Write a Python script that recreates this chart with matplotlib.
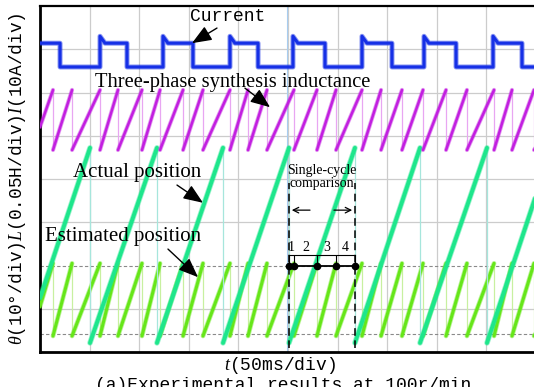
import matplotlib
matplotlib.use("Agg")
import matplotlib.pyplot as plt
import matplotlib.patheffects as pe
import numpy as np
from matplotlib.collections import LineCollection

plt.rcParams["mathtext.fontset"] = "custom"
plt.rcParams["mathtext.it"] = "Liberation Serif:italic"
plt.rcParams["mathtext.rm"] = "Liberation Serif"

# time in ms (50 ms/div), vertical in screen divisions from the bottom
T_END = 500
Y_DIVS = 8

# phase current, square wave
CURRENT_FALLS = [20.2, 87.7, 154.2, 219.8, 287.3, 354.8, 419.4, 485.9]
CURRENT_RISES = [60.5, 124.0, 191.5, 255.0, 324.6, 387.1, 456.7]
CURRENT_HIGH = 7.14
CURRENT_PEAK = 7.30
CURRENT_LOW = 6.59
CURRENT_SETTLE = 5.0

# three-phase synthesis inductance, drops at each commutation
INDUCT_DROPS = [13.1, 32.3, 60.5, 78.6, 102.8, 121.0, 144.2, 164.3, 191.5, 209.7,
                228.8, 256.0, 279.2, 298.4, 324.6, 343.8, 364.9, 386.1, 409.3,
                430.4, 457.7, 475.8, 498.0]
INDUCT_LOW, INDUCT_HIGH = 4.67, 6.06
INDUCT_START, INDUCT_END = 5.2, 4.75

# actual rotor position
ACTUAL_DROPS = [50.4, 117.9, 184.5, 251.0, 317.5, 383.1, 450.6]
ACTUAL_LOW, ACTUAL_HIGH = 0.21, 4.72
ACTUAL_START, ACTUAL_END = 1.25, 3.62

# estimated position, resets with the inductance drops
EST_LOW, EST_HIGH = 0.37, 2.05
EST_START, EST_END = 1.05, 0.45

DASHED_LEVELS = [2.0, 0.42]
TRIGGER_T = 249.0

MONO = "Liberation Mono"
SERIF = "Liberation Serif"


def sawtooth(drops, low, high, start, end):
    segs = [[(0, start), (drops[0], high)]]
    for a, b in zip(drops[:-1], drops[1:]):
        segs.append([(a, low), (b, high)])
    segs.append([(drops[-1], low), (T_END, end)])
    return segs


def draw_saw(ax, drops, low, high, start, end, color, drop_color, lw, z):
    ax.vlines(drops, low, high, color=drop_color, lw=0.9, zorder=z - 0.5)
    lc = LineCollection(sawtooth(drops, low, high, start, end), colors=color,
                        linewidths=lw, zorder=z, capstyle="round")
    lc.set_path_effects([pe.Stroke(linewidth=lw + 1.2, foreground=color, alpha=0.45),
                         pe.Normal()])
    ax.add_collection(lc)


fig = plt.figure(figsize=(5.34, 3.87), dpi=100)
ax = fig.add_axes([40 / 534, 35 / 387, 496 / 534, 346 / 387])
ax.set_xlim(0, T_END)
ax.set_ylim(0, Y_DIVS)
ax.set_xticks([])
ax.set_yticks([])

for t in np.arange(50, T_END, 50):
    ax.axvline(t, color="#cccccc", lw=0.9, zorder=0)
for y in range(1, Y_DIVS):
    if y not in DASHED_LEVELS:
        ax.axhline(y, color="#cccccc", lw=0.9, zorder=0)
for y in DASHED_LEVELS:
    ax.axhline(y, color="#8a8a8a", lw=0.8, ls=(0, (3, 2)), zorder=0.5)
ax.axvline(TRIGGER_T, color="#a8cdf0", lw=0.8, zorder=0.6)

for side in ["left", "bottom"]:
    ax.spines[side].set_linewidth(2.0)
ax.spines["top"].set_linewidth(1.6)
ax.spines["right"].set_visible(False)

# current trace
events = sorted([(t, "f") for t in CURRENT_FALLS] + [(t, "r") for t in CURRENT_RISES])
cx, cy = [0], [CURRENT_HIGH]
for t, kind in events:
    if kind == "f":
        cx += [t, t]
        cy += [CURRENT_HIGH, CURRENT_LOW]
    else:
        cx += [t, t, t + CURRENT_SETTLE]
        cy += [CURRENT_LOW, CURRENT_PEAK, CURRENT_HIGH]
cx.append(T_END)
cy.append(CURRENT_LOW if events[-1][1] == "f" else CURRENT_HIGH)
ax.plot(cx, cy, color="#1630e6", lw=2.2, zorder=5,
        path_effects=[pe.Stroke(linewidth=3.6, foreground="#1630e6", alpha=0.5), pe.Normal()])

draw_saw(ax, INDUCT_DROPS, INDUCT_LOW, INDUCT_HIGH, INDUCT_START, INDUCT_END,
         "#c21fe0", "#e8a6f2", 1.8, 4)
draw_saw(ax, INDUCT_DROPS, EST_LOW, EST_HIGH, EST_START, EST_END,
         "#66e619", "#c8f0a0", 2.2, 3)
draw_saw(ax, ACTUAL_DROPS, ACTUAL_LOW, ACTUAL_HIGH, ACTUAL_START, ACTUAL_END,
         "#1ee68c", "#a6e6dc", 2.8, 3.5)

# single-cycle comparison markup
c0, c1 = ACTUAL_DROPS[3], ACTUAL_DROPS[4]
ax.vlines([c0, c1], 0.09, 3.91, color="black", lw=1.1, ls=(0, (5, 3)), zorder=7)
ax.text((c0 + c1) / 2, 4.05, "Single-cycle\ncomparison", ha="center", va="center",
        fontsize=10, family=SERIF, linespacing=1.05, zorder=8)
ax.annotate("", xy=(c0, 3.28), xytext=(c0 + 24, 3.28),
            arrowprops=dict(arrowstyle="->", lw=0.9, color="black"), zorder=8)
ax.annotate("", xy=(c1, 3.28), xytext=(c1 - 24, 3.28),
            arrowprops=dict(arrowstyle="->", lw=0.9, color="black"), zorder=8)
marks = [c0] + [d for d in INDUCT_DROPS if c0 < d < c1] + [c1]
ax.plot([c0, c1], [2.0, 2.0], color="black", lw=1.3, zorder=8)
ax.plot(marks, [2.0] * len(marks), "o", color="black", ms=4.5, zorder=9)
ax.vlines(marks, 2.0, 2.24, color="black", lw=0.8, zorder=8)
ax.plot([c0, c1], [2.24, 2.24], color="black", lw=0.8, zorder=8)
for i, (a, b) in enumerate(zip(marks[:-1], marks[1:])):
    ax.text((a + b) / 2, 2.42, str(i + 1), ha="center", va="center", fontsize=10,
            family=SERIF, zorder=9)

# labels with arrows
arrow = dict(arrowstyle="-|>,head_length=1.0,head_width=0.4", color="black", lw=1.0,
             mutation_scale=12, shrinkA=0, shrinkB=0)
ax.text(189.5, 7.75, "Current", ha="center", va="center", fontsize=13, family=MONO, zorder=10)
ax.annotate("", xy=(153.2, 7.14), xytext=(178.4, 7.49), arrowprops=arrow, zorder=10)
ax.text(55.4, 6.24, "Three-phase synthesis inductance", ha="left", va="center",
        fontsize=14.8, family=SERIF, zorder=10)
ax.annotate("", xy=(231.9, 5.66), xytext=(206.6, 6.10), arrowprops=arrow, zorder=10)
ax.text(33.3, 4.16, "Actual position", ha="left", va="center", fontsize=15,
        family=SERIF, zorder=10)
ax.annotate("", xy=(164.3, 3.45), xytext=(138.1, 3.86), arrowprops=arrow, zorder=10)
ax.text(5.0, 2.66, "Estimated position", ha="left", va="center", fontsize=15,
        family=SERIF, zorder=10)
ax.annotate("", xy=(159.3, 1.73), xytext=(129.0, 2.38), arrowprops=arrow, zorder=10)

fig.text(18 / 534, 1 - 179 / 387, r"$\theta$(10°/div)$L$(0.05H/div)$I$(10A/div)",
         rotation=90, ha="center", va="center", fontsize=12.8, family=MONO)
fig.text(280 / 534, 1 - 366 / 387, r"$t$(50ms/div)", ha="center", va="center",
         fontsize=13, family=MONO)
fig.text(283 / 534, 1 - 377 / 387, "(a)Experimental results at 100r/min", ha="center",
         va="top", fontsize=13, family=MONO)

fig.savefig("out.png", dpi=100)
